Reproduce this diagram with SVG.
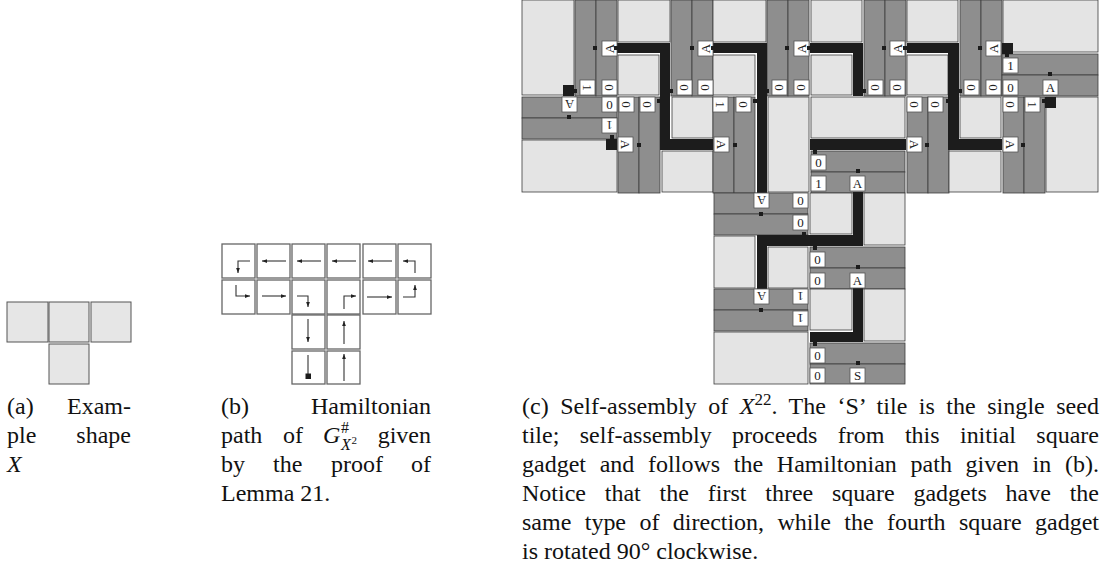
<svg xmlns="http://www.w3.org/2000/svg" width="1111" height="574" viewBox="0 0 1111 574">
<style>
.sq{fill:#e6e6e6;stroke:#555;stroke-width:1}
.cell{fill:#fff;stroke:#666;stroke-width:1.3}
.arr{fill:none;stroke:#333;stroke-width:1.1;marker-end:url(#ah)}
.ln{fill:none;stroke:#333;stroke-width:1.1}
.lt{fill:#e4e4e4;stroke:#3c3c3c;stroke-width:.8}
.dk{fill:#8e8e8e;stroke:#3c3c3c;stroke-width:.8}
.bk{fill:#1c1c1c}
.lb rect{fill:#fff;stroke:#555;stroke-width:.8}
.lb text{font-family:"Liberation Serif","Times New Roman",serif;font-size:13px;text-anchor:middle;fill:#222}
.cap{font-family:"Liberation Serif","Times New Roman",serif;font-size:24px;fill:#111}
</style>
<defs>
<marker id="ah" viewBox="0 0 8 6" refX="8" refY="3" markerWidth="5" markerHeight="4" markerUnits="userSpaceOnUse" orient="auto"><path d="M0,0 L8,3 L0,6 z" fill="#222"/></marker>
</defs>
<rect width="1111" height="574" fill="#fff"/>

<!-- Panel (a) -->
<g id="panel-a">
<g id="a-sq1"><rect class="sq" x="7" y="302" width="41" height="40"/></g>
<g id="a-sq2"><rect class="sq" x="49" y="302" width="40" height="40"/></g>
<g id="a-sq3"><rect class="sq" x="91" y="302" width="40" height="40"/></g>
<g id="a-sq4"><rect class="sq" x="49" y="344" width="40" height="40"/></g>
</g>

<!-- Panel (b) -->
<g id="panel-b">
<g id="b-r0c0"><rect class="cell" x="222" y="244" width="33" height="34"/></g>
<g id="b-r0c1"><rect class="cell" x="257" y="244" width="33" height="34"/></g>
<g id="b-r0c2"><rect class="cell" x="292" y="244" width="33" height="34"/></g>
<g id="b-r0c3"><rect class="cell" x="327" y="244" width="33" height="34"/></g>
<g id="b-r0c4"><rect class="cell" x="363" y="244" width="33" height="34"/></g>
<g id="b-r0c5"><rect class="cell" x="398" y="244" width="33" height="34"/></g>
<g id="b-r1c0"><rect class="cell" x="222" y="280" width="33" height="34"/></g>
<g id="b-r1c1"><rect class="cell" x="257" y="280" width="33" height="34"/></g>
<g id="b-r1c2"><rect class="cell" x="292" y="280" width="33" height="34"/></g>
<g id="b-r1c3"><rect class="cell" x="327" y="280" width="33" height="34"/></g>
<g id="b-r1c4"><rect class="cell" x="363" y="280" width="33" height="34"/></g>
<g id="b-r1c5"><rect class="cell" x="398" y="280" width="33" height="34"/></g>
<g id="b-r2c2"><rect class="cell" x="292" y="315" width="33" height="34"/></g>
<g id="b-r2c3"><rect class="cell" x="327" y="315" width="33" height="34"/></g>
<g id="b-r3c2"><rect class="cell" x="292" y="351" width="33" height="33"/></g>
<g id="b-r3c3"><rect class="cell" x="327" y="351" width="33" height="33"/></g>
</g>
<g id="b-arrows">
<path class="arr" d="M250 261 H238 V273"/>
<path class="arr" d="M286 261 H262"/>
<path class="arr" d="M321 261 H297"/>
<path class="arr" d="M356 261 H332"/>
<path class="arr" d="M392 261 H368"/>
<path class="arr" d="M415 273 V261 H403"/>
<path class="arr" d="M236 285 V296 H250"/>
<path class="arr" d="M262 296 H286"/>
<path class="arr" d="M297 296 H308 V307"/>
<path class="arr" d="M344 309 V296 H356"/>
<path class="arr" d="M367 297 H392"/>
<path class="arr" d="M403 297 H415 V285"/>
<path class="arr" d="M308 319 V342"/>
<path class="arr" d="M344 344 V321"/>
<path class="ln" d="M308 355 V375"/>
<rect x="305.5" y="373.5" width="5.5" height="5.5" fill="#1c1c1c"/>
<path class="arr" d="M344 381 V354"/>
</g>

<!-- Panel (c) -->
<g id="panel-c">
<g id="c-r0c0">
<rect class="lt" x="522" y="0" width="52" height="95"/>
<rect class="dk" x="575" y="0" width="21" height="96"/>
<rect class="dk" x="596" y="0" width="21" height="96"/>
</g>
<g id="c-r0c1">
<rect class="lt" x="618" y="0" width="52" height="42"/>
<rect class="lt" x="618" y="55" width="41" height="40"/>
<rect class="dk" x="671" y="0" width="21" height="96"/>
<rect class="dk" x="692" y="0" width="21" height="96"/>
</g>
<g id="c-r0c2">
<rect class="lt" x="713" y="0" width="53" height="42"/>
<rect class="lt" x="713" y="55" width="42" height="40"/>
<rect class="dk" x="767" y="0" width="21" height="96"/>
<rect class="dk" x="788" y="0" width="21" height="96"/>
</g>
<g id="c-r0c3">
<rect class="lt" x="811" y="0" width="51" height="42"/>
<rect class="lt" x="811" y="55" width="41" height="40"/>
<rect class="dk" x="864" y="0" width="21" height="96"/>
<rect class="dk" x="885" y="0" width="21" height="96"/>
</g>
<g id="c-r0c4">
<rect class="lt" x="907" y="0" width="51" height="42"/>
<rect class="lt" x="907" y="55" width="41" height="40"/>
<rect class="dk" x="960" y="0" width="21" height="96"/>
<rect class="dk" x="981" y="0" width="21" height="96"/>
</g>
<g id="c-r0c5">
<rect class="lt" x="1003" y="0" width="95" height="52"/>
<rect class="dk" x="1002" y="54" width="96" height="21"/>
<rect class="dk" x="1002" y="75" width="96" height="21"/>
</g>
<g id="c-r1c0">
<rect class="dk" x="522" y="97" width="95" height="21"/>
<rect class="dk" x="522" y="118" width="95" height="21"/>
<rect class="lt" x="522" y="140" width="95" height="52"/>
</g>
<g id="c-r1c1">
<rect class="dk" x="618" y="97" width="21" height="96"/>
<rect class="dk" x="639" y="97" width="21" height="96"/>
<rect class="lt" x="672" y="97" width="41" height="41"/>
<rect class="lt" x="662" y="151" width="51" height="41"/>
</g>
<g id="c-r1c2">
<rect class="dk" x="713" y="97" width="21" height="96"/>
<rect class="dk" x="734" y="97" width="21" height="96"/>
<rect class="lt" x="768" y="97" width="41" height="95"/>
</g>
<g id="c-r1c3">
<rect class="lt" x="811" y="97" width="94" height="41"/>
<rect class="dk" x="811" y="151" width="94" height="21"/>
<rect class="dk" x="811" y="172" width="94" height="21"/>
</g>
<g id="c-r1c4">
<rect class="dk" x="907" y="97" width="21" height="96"/>
<rect class="dk" x="928" y="97" width="21" height="96"/>
<rect class="lt" x="960" y="97" width="41" height="41"/>
<rect class="lt" x="949" y="151" width="52" height="41"/>
</g>
<g id="c-r1c5">
<rect class="dk" x="1003" y="97" width="21" height="96"/>
<rect class="dk" x="1024" y="97" width="21" height="96"/>
<rect class="lt" x="1046" y="97" width="52" height="95"/>
</g>
<g id="c-r2c2">
<rect class="dk" x="714" y="193" width="94" height="21"/>
<rect class="dk" x="714" y="214" width="94" height="21"/>
<rect class="lt" x="714" y="236" width="41" height="52"/>
<rect class="lt" x="768" y="247" width="40" height="41"/>
</g>
<g id="c-r2c3">
<rect class="lt" x="810" y="193" width="42" height="41"/>
<rect class="lt" x="864" y="193" width="41" height="52"/>
<rect class="dk" x="810" y="247" width="95" height="21"/>
<rect class="dk" x="810" y="268" width="95" height="21"/>
</g>
<g id="c-r3c2">
<rect class="dk" x="714" y="289" width="94" height="21"/>
<rect class="dk" x="714" y="310" width="94" height="21"/>
<rect class="lt" x="714" y="332" width="94" height="52"/>
</g>
<g id="c-r3c3">
<rect class="lt" x="810" y="289" width="42" height="41"/>
<rect class="lt" x="864" y="289" width="41" height="52"/>
<rect class="dk" x="810" y="343" width="95" height="21"/>
<rect class="dk" x="810" y="364" width="95" height="20"/>
</g>
</g>

<g id="c-path">
<rect class="bk" x="617" y="43" width="53" height="10"/>
<rect class="bk" x="660" y="43" width="10" height="107"/>
<rect class="bk" x="660" y="139" width="53" height="11"/>
<rect class="bk" x="713" y="43" width="54" height="10"/>
<rect class="bk" x="757" y="43" width="10" height="150"/>
<rect class="bk" x="810" y="43" width="53" height="10"/>
<rect class="bk" x="853" y="43" width="10" height="53"/>
<rect class="bk" x="907" y="43" width="52" height="10"/>
<rect class="bk" x="948" y="43" width="11" height="107"/>
<rect class="bk" x="948" y="139" width="54" height="11"/>
<rect class="bk" x="810" y="139" width="96" height="11"/>
<rect class="bk" x="757" y="235" width="106" height="11"/>
<rect class="bk" x="757" y="235" width="10" height="54"/>
<rect class="bk" x="853" y="192" width="10" height="54"/>
<rect class="bk" x="853" y="288" width="10" height="54"/>
<rect class="bk" x="810" y="332" width="53" height="10"/>
<rect class="bk" x="563" y="85" width="11" height="11"/>
<rect class="bk" x="1002" y="43" width="11" height="11"/>
<rect class="bk" x="606" y="139" width="11" height="11"/>
<rect class="bk" x="1045" y="97" width="11" height="11"/>
</g>

<g id="c-labels">
<g class="lb"><rect x="602" y="41" width="15" height="15"/><text x="609.5" y="53" transform="rotate(-90 609.5 48.5)">A</text></g>
<g class="lb"><rect x="580" y="80" width="15" height="15"/><text x="587.5" y="92" transform="rotate(90 587.5 87.5)">1</text></g>
<g class="lb"><rect x="602" y="80" width="15" height="15"/><text x="609.5" y="92" transform="rotate(90 609.5 87.5)">0</text></g>
<g class="lb"><rect x="698" y="41" width="15" height="15"/><text x="705.5" y="53" transform="rotate(-90 705.5 48.5)">A</text></g>
<g class="lb"><rect x="677" y="80" width="15" height="15"/><text x="684.5" y="92" transform="rotate(90 684.5 87.5)">0</text></g>
<g class="lb"><rect x="698" y="80" width="15" height="15"/><text x="705.5" y="92" transform="rotate(90 705.5 87.5)">0</text></g>
<g class="lb"><rect x="794" y="41" width="15" height="15"/><text x="801.5" y="53" transform="rotate(-90 801.5 48.5)">A</text></g>
<g class="lb"><rect x="772" y="80" width="15" height="15"/><text x="779.5" y="92" transform="rotate(90 779.5 87.5)">0</text></g>
<g class="lb"><rect x="794" y="80" width="15" height="15"/><text x="801.5" y="92" transform="rotate(90 801.5 87.5)">0</text></g>
<g class="lb"><rect x="890" y="41" width="15" height="15"/><text x="897.5" y="53" transform="rotate(-90 897.5 48.5)">A</text></g>
<g class="lb"><rect x="868" y="80" width="15" height="15"/><text x="875.5" y="92" transform="rotate(90 875.5 87.5)">0</text></g>
<g class="lb"><rect x="890" y="80" width="15" height="15"/><text x="897.5" y="92" transform="rotate(90 897.5 87.5)">0</text></g>
<g class="lb"><rect x="986" y="41" width="15" height="15"/><text x="993.5" y="53" transform="rotate(-90 993.5 48.5)">A</text></g>
<g class="lb"><rect x="964" y="80" width="15" height="15"/><text x="971.5" y="92" transform="rotate(90 971.5 87.5)">0</text></g>
<g class="lb"><rect x="986" y="80" width="15" height="15"/><text x="993.5" y="92" transform="rotate(90 993.5 87.5)">0</text></g>
<g class="lb"><rect x="1003" y="58" width="15" height="15"/><text x="1010.5" y="70">1</text></g>
<g class="lb"><rect x="1003" y="80" width="15" height="15"/><text x="1010.5" y="92">0</text></g>
<g class="lb"><rect x="1043" y="80" width="15" height="15"/><text x="1050.5" y="92">A</text></g>
<g class="lb"><rect x="562" y="97" width="15" height="15"/><text x="569.5" y="109" transform="rotate(180 569.5 104.5)">A</text></g>
<g class="lb"><rect x="602" y="97" width="15" height="15"/><text x="609.5" y="109">0</text></g>
<g class="lb"><rect x="602" y="118" width="15" height="15"/><text x="609.5" y="130" transform="rotate(180 609.5 125.5)">1</text></g>
<g class="lb"><rect x="619" y="97" width="15" height="15"/><text x="626.5" y="109" transform="rotate(90 626.5 104.5)">0</text></g>
<g class="lb"><rect x="640" y="97" width="15" height="15"/><text x="647.5" y="109" transform="rotate(90 647.5 104.5)">0</text></g>
<g class="lb"><rect x="618" y="137" width="15" height="15"/><text x="625.5" y="149" transform="rotate(90 625.5 144.5)">A</text></g>
<g class="lb"><rect x="713" y="97" width="15" height="15"/><text x="720.5" y="109" transform="rotate(90 720.5 104.5)">1</text></g>
<g class="lb"><rect x="736" y="97" width="15" height="15"/><text x="743.5" y="109" transform="rotate(90 743.5 104.5)">0</text></g>
<g class="lb"><rect x="714" y="137" width="15" height="15"/><text x="721.5" y="149" transform="rotate(90 721.5 144.5)">A</text></g>
<g class="lb"><rect x="811" y="155" width="15" height="15"/><text x="818.5" y="167">0</text></g>
<g class="lb"><rect x="811" y="176" width="15" height="15"/><text x="818.5" y="188">1</text></g>
<g class="lb"><rect x="850" y="176" width="15" height="15"/><text x="857.5" y="188">A</text></g>
<g class="lb"><rect x="907" y="97" width="15" height="15"/><text x="914.5" y="109" transform="rotate(90 914.5 104.5)">0</text></g>
<g class="lb"><rect x="928" y="97" width="15" height="15"/><text x="935.5" y="109" transform="rotate(90 935.5 104.5)">0</text></g>
<g class="lb"><rect x="907" y="137" width="15" height="15"/><text x="914.5" y="149" transform="rotate(90 914.5 144.5)">A</text></g>
<g class="lb"><rect x="1003" y="97" width="15" height="15"/><text x="1010.5" y="109" transform="rotate(90 1010.5 104.5)">0</text></g>
<g class="lb"><rect x="1025" y="97" width="15" height="15"/><text x="1032.5" y="109" transform="rotate(90 1032.5 104.5)">1</text></g>
<g class="lb"><rect x="1003" y="137" width="15" height="15"/><text x="1010.5" y="149" transform="rotate(90 1010.5 144.5)">A</text></g>
<g class="lb"><rect x="754" y="193" width="15" height="15"/><text x="761.5" y="205" transform="rotate(180 761.5 200.5)">A</text></g>
<g class="lb"><rect x="793" y="193" width="15" height="15"/><text x="800.5" y="205">0</text></g>
<g class="lb"><rect x="793" y="215" width="15" height="15"/><text x="800.5" y="227">0</text></g>
<g class="lb"><rect x="810" y="252" width="15" height="15"/><text x="817.5" y="264">0</text></g>
<g class="lb"><rect x="810" y="273" width="15" height="15"/><text x="817.5" y="285">0</text></g>
<g class="lb"><rect x="850" y="273" width="15" height="15"/><text x="857.5" y="285">A</text></g>
<g class="lb"><rect x="754" y="289" width="15" height="15"/><text x="761.5" y="301" transform="rotate(180 761.5 296.5)">A</text></g>
<g class="lb"><rect x="793" y="289" width="15" height="15"/><text x="800.5" y="301" transform="rotate(180 800.5 296.5)">1</text></g>
<g class="lb"><rect x="793" y="311" width="15" height="15"/><text x="800.5" y="323" transform="rotate(180 800.5 318.5)">1</text></g>
<g class="lb"><rect x="810" y="348" width="15" height="15"/><text x="817.5" y="360">0</text></g>
<g class="lb"><rect x="810" y="368" width="15" height="15"/><text x="817.5" y="380">0</text></g>
<g class="lb"><rect x="850" y="368" width="15" height="15"/><text x="857.5" y="380">S</text></g>
</g>

<g id="c-glue" class="bk">
<rect x="593" y="46" width="4" height="4"/><rect x="614" y="46" width="4" height="4"/><rect x="573" y="89" width="4" height="4"/>
<rect x="690" y="46" width="4" height="4"/><rect x="711" y="46" width="4" height="4"/><rect x="669" y="89" width="4" height="4"/>
<rect x="785" y="46" width="4" height="4"/><rect x="807" y="46" width="4" height="4"/><rect x="765" y="89" width="4" height="4"/>
<rect x="882" y="46" width="4" height="4"/><rect x="903" y="46" width="4" height="4"/><rect x="862" y="89" width="4" height="4"/>
<rect x="978" y="46" width="4" height="4"/><rect x="958" y="89" width="4" height="4"/><rect x="1005" y="53" width="4" height="4"/>
<rect x="1048" y="72" width="4" height="4"/>
<rect x="567" y="115" width="4" height="4"/><rect x="610" y="135" width="4" height="4"/>
<rect x="657" y="99" width="4" height="4"/><rect x="637" y="143" width="4" height="4"/>
<rect x="753" y="99" width="4" height="4"/><rect x="733" y="143" width="4" height="4"/>
<rect x="813" y="150" width="4" height="4"/><rect x="856" y="169" width="4" height="4"/>
<rect x="946" y="99" width="4" height="4"/><rect x="925" y="143" width="4" height="4"/>
<rect x="1042" y="99" width="4" height="4"/><rect x="1021" y="143" width="4" height="4"/>
<rect x="759" y="212" width="4" height="4"/><rect x="802" y="232" width="4" height="4"/>
<rect x="813" y="246" width="4" height="4"/><rect x="856" y="265" width="4" height="4"/>
<rect x="759" y="308" width="4" height="4"/>
<rect x="813" y="342" width="4" height="4"/><rect x="856" y="361" width="4" height="4"/>
</g>

<!-- Captions -->
<g id="cap-a" class="cap">
<text x="7" y="414">(a)</text><text x="131" y="414" text-anchor="end">Exam-</text>
<text x="7" y="443">ple</text><text x="131" y="443" text-anchor="end">shape</text>
<text x="7" y="472" font-style="italic">X</text>
</g>
<g id="cap-b" class="cap">
<text x="221" y="414">(b)</text><text x="431" y="414" text-anchor="end">Hamiltonian</text>
<text x="221" y="443">path</text><text x="283" y="443">of</text>
<text x="323" y="443" font-style="italic">G</text>
<text x="341" y="433" font-size="16">#</text>
<text x="341" y="450" font-size="16" font-style="italic">X</text>
<text x="351.5" y="444" font-size="11">2</text>
<text x="431" y="443" text-anchor="end">given</text>
<text x="221" y="472">by</text><text x="273" y="472">the</text><text x="331" y="472">proof</text><text x="431" y="472" text-anchor="end">of</text>
<text x="221" y="501">Lemma 21.</text>
</g>
<g id="cap-c" class="cap">
<text x="522" y="414" textLength="577" lengthAdjust="spacing" word-spacing="5.4">(c) Self-assembly of <tspan font-style="italic">X</tspan><tspan font-size="17" dy="-9">22</tspan><tspan dy="9">. The &#8216;S&#8217; tile is the single seed</tspan></text>
<text x="522" y="443" textLength="577" lengthAdjust="spacing" word-spacing="14.4">tile; self-assembly proceeds from this initial square</text>
<text x="522" y="472" textLength="577" lengthAdjust="spacing" word-spacing="7.7">gadget and follows the Hamiltonian path given in (b).</text>
<text x="522" y="501" textLength="577" lengthAdjust="spacing" word-spacing="12.8">Notice that the first three square gadgets have the</text>
<text x="522" y="530" textLength="577" lengthAdjust="spacing" word-spacing="7.4">same type of direction, while the fourth square gadget</text>
<text x="522" y="559">is rotated 90° clockwise.</text>
</g>
</svg>
